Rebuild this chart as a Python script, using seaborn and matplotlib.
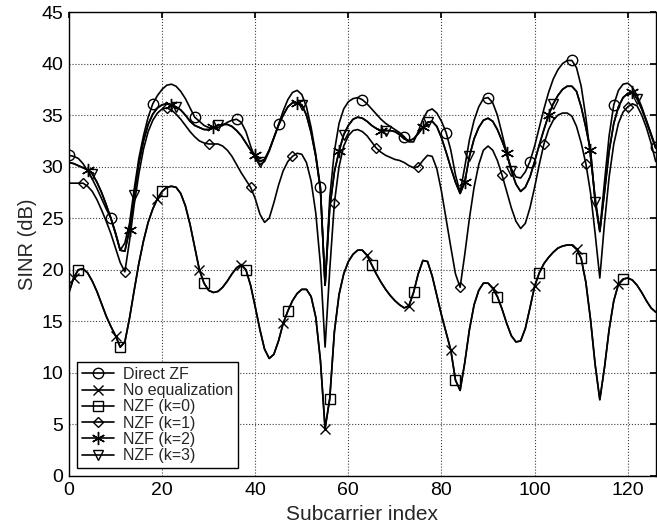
import matplotlib

matplotlib.use("Agg", force=True)
import matplotlib.pyplot as plt
from matplotlib.lines import Line2D
import numpy as np
import seaborn as sns

SUBCARRIER = list(range(127))

DIRECT_ZF = [
    31.1, 31.0, 30.8, 30.3, 29.6, 28.8, 27.9, 26.9, 25.9, 25.0,
    23.6, 21.9, 22.6, 24.5, 27.8, 30.8, 33.0, 34.8, 36.1, 36.9,
    37.5, 37.9, 38.0, 37.8, 37.3, 36.6, 35.7, 34.8, 34.4, 34.0,
    33.8, 33.7, 33.8, 34.0, 34.3, 34.5, 34.6, 34.3, 33.4, 32.0,
    30.8, 30.2, 30.5, 31.5, 32.8, 34.1, 35.4, 36.5, 37.2, 37.4,
    37.0, 35.8, 33.8, 31.2, 28.0, 18.5, 27.0, 31.5, 34.2, 35.6,
    36.3, 36.6, 36.7, 36.5, 36.1, 35.6, 35.1, 34.6, 34.2, 33.9,
    33.6, 33.3, 32.9, 32.4, 32.4, 33.4, 34.6, 35.4, 35.6, 35.2,
    34.4, 33.3, 31.6, 29.2, 27.5, 30.0, 32.6, 34.5, 35.8, 36.6,
    36.7, 36.2, 35.0, 33.2, 31.3, 29.8, 29.0, 28.9, 29.5, 30.5,
    32.0, 33.8, 35.6, 37.2, 38.5, 39.4, 40.0, 40.3, 40.3, 39.6,
    37.8, 34.8, 31.0, 27.0, 23.8, 28.5, 33.0, 36.0, 37.4, 38.0,
    38.1, 37.7, 36.9, 35.8, 34.5, 33.2, 31.9,
]

# no equalization and NZF (k=0) lie on the same curve
NO_EQ = [
    17.8, 19.2, 20.0, 20.1, 19.7, 18.9, 17.9, 16.7, 15.5, 14.5,
    13.6, 12.5, 13.0, 15.3, 18.0, 20.6, 22.8, 24.6, 25.9, 26.9,
    27.6, 28.0, 28.1, 28.0, 27.4, 26.2, 24.4, 22.2, 20.0, 18.7,
    18.0, 17.8, 17.9, 18.3, 18.9, 19.6, 20.2, 20.5, 20.0, 18.5,
    16.4, 14.2, 12.3, 11.4, 11.8, 13.1, 14.8, 16.0, 17.0, 17.7,
    18.1, 18.1, 17.4, 15.4, 11.2, 4.6, 7.5, 14.0, 17.6, 19.6,
    20.8, 21.5, 21.9, 21.9, 21.4, 20.5, 19.6, 18.8, 18.1, 17.5,
    17.0, 16.6, 16.3, 16.5, 17.8, 19.6, 20.9, 20.8, 19.4, 17.5,
    15.6, 13.9, 12.2, 9.3, 8.3, 11.0, 14.2, 16.6, 18.0, 18.7,
    18.7, 18.2, 17.4, 16.2, 14.8, 13.6, 13.0, 13.1, 14.3, 16.3,
    18.4, 19.7, 20.6, 21.2, 21.7, 22.1, 22.3, 22.4, 22.4, 22.0,
    21.1, 18.8, 15.2, 10.8, 7.4, 10.5, 14.2, 17.0, 18.6, 19.1,
    19.2, 19.0, 18.5, 17.8, 17.0, 16.3, 15.9,
]
NZF_K0 = list(NO_EQ)

NZF_K1 = [
    28.4, 28.4, 28.4, 28.4, 28.1, 27.6, 26.8, 25.8, 24.7, 23.5,
    22.1, 20.7, 19.8, 22.8, 26.3, 29.3, 31.7, 33.4, 34.5, 35.2,
    35.6, 35.7, 35.5, 35.1, 34.6, 34.0, 33.4, 32.9, 32.5, 32.3,
    32.2, 32.2, 32.2, 32.0, 31.6, 31.0, 30.2, 29.4, 28.7, 28.0,
    26.9, 25.4, 24.6, 25.0, 26.5, 28.2, 29.6, 30.5, 31.0, 31.3,
    31.2, 30.4, 28.6, 25.5, 20.5, 12.5, 20.0, 26.5, 30.0, 32.0,
    33.0, 33.5, 33.6, 33.4, 33.0, 32.4, 31.8, 31.4, 31.1, 30.9,
    30.7, 30.6, 30.4, 30.1, 29.9, 30.0, 30.6, 31.1, 31.0, 29.8,
    27.6, 24.9, 22.2, 19.6, 18.3, 21.5, 25.0, 28.0, 30.2, 31.6,
    32.0, 31.6, 30.6, 29.2, 27.6, 26.0, 24.7, 24.0, 24.5, 26.0,
    28.0, 30.2, 32.2, 33.6, 34.5, 35.0, 35.2, 35.2, 34.9, 33.9,
    32.3, 30.3, 27.5, 23.5, 19.2, 24.5, 29.0, 32.2, 34.2, 35.3,
    35.8, 36.1, 35.9, 35.0, 33.8, 32.3, 30.5,
]

NZF_K2 = [
    30.4, 30.3, 30.1, 29.9, 29.7, 29.3, 28.5, 27.5, 26.3, 25.0,
    23.5, 21.9, 21.8, 23.9, 27.3, 30.3, 32.5, 34.1, 35.1, 35.7,
    36.0, 36.1, 36.0, 35.8, 35.5, 35.0, 34.4, 34.0, 33.8, 33.6,
    33.6, 33.8, 34.0, 34.1, 34.1, 33.9, 33.5, 33.0, 32.3, 31.6,
    31.1, 30.5, 30.7, 31.6, 32.8, 34.0, 35.0, 35.8, 36.2, 36.2,
    36.0, 35.0, 33.3, 31.0, 27.8, 18.5, 26.0, 29.5, 31.5, 33.1,
    34.0, 34.6, 34.8, 34.7, 34.4, 34.0, 33.7, 33.5, 33.5, 33.5,
    33.4, 33.1, 32.7, 32.5, 32.7, 33.2, 33.8, 34.3, 34.4, 33.9,
    32.8, 31.4, 29.9, 28.5, 27.4, 28.5, 31.0, 32.7, 33.8, 34.5,
    34.7, 34.4, 33.6, 32.5, 31.3, 29.6, 28.3, 27.6, 28.0, 29.0,
    30.5, 32.1, 33.6, 35.0, 36.1, 36.9, 37.5, 37.8, 37.8, 37.3,
    35.8, 33.8, 31.6, 26.6, 23.7, 27.5, 31.5, 34.2, 35.8, 36.7,
    37.1, 37.2, 36.6, 35.6, 34.4, 33.1, 31.8,
]
# k=3 is practically on top of k=2
NZF_K3 = list(NZF_K2)

SERIES = [
    ("Direct ZF", DIRECT_ZF, "o", 0),
    ("No equalization", NO_EQ, "x", 1),
    ("NZF (k=0)", NZF_K0, "s", 2),
    ("NZF (k=1)", NZF_K1, "D", 3),
    ("NZF (k=2)", NZF_K2, (6, 2, 0), 4),
    ("NZF (k=3)", NZF_K3, "v", 5),
]
MARKER_SIZE = {"o": 7.5, "x": 7.5, "s": 6.5, "D": 5.5, "v": 7.5}


def main() -> None:
    sns.set_theme(style="white")
    plt.rcParams["font.family"] = ["Liberation Sans", "DejaVu Sans"]

    fig = plt.figure(figsize=(6.57, 5.29), dpi=100)
    ax = fig.add_axes([0.105, 0.1002, 0.893, 0.8771])

    handles = []
    for label, values, marker, offset in SERIES:
        ms = MARKER_SIZE.get(marker, 9.5) if isinstance(marker, str) else 9.5
        style = dict(color="black", marker=marker, markersize=ms,
                     markerfacecolor="none", markeredgecolor="black",
                     markeredgewidth=1.0)
        sns.lineplot(x=SUBCARRIER, y=values, ax=ax, linewidth=1.2,
                     markevery=(offset, 9), estimator=None, legend=False,
                     **style)
        handles.append(Line2D([], [], linewidth=1.2, label=label, **style))

    ax.set_xlim(0, 126)
    ax.set_ylim(0, 45)
    ax.set_xticks(np.arange(0, 121, 20))
    ax.set_yticks(np.arange(0, 46, 5))
    ax.grid(True, linestyle=":", color="0.25", linewidth=0.8)
    ax.tick_params(direction="in", top=True, right=True, length=4,
                   labelsize=14, colors="black", pad=4)
    for sp in ax.spines.values():
        sp.set_color("black")
        sp.set_linewidth(1.0)
    ax.set_xlabel("Subcarrier index", fontsize=15, labelpad=5)
    ax.set_ylabel("SINR (dB)", fontsize=14.5, labelpad=3)

    leg = ax.legend(handles=handles, loc="lower left", fontsize=11.5,
                    handlelength=2.0, handletextpad=0.6, labelspacing=0.08,
                    borderpad=0.3, fancybox=False, framealpha=1,
                    edgecolor="black", borderaxespad=0.5)
    leg.get_frame().set_linewidth(1.0)

    fig.savefig("out.png", dpi=100)
    plt.close(fig)


if __name__ == "__main__":
    main()
